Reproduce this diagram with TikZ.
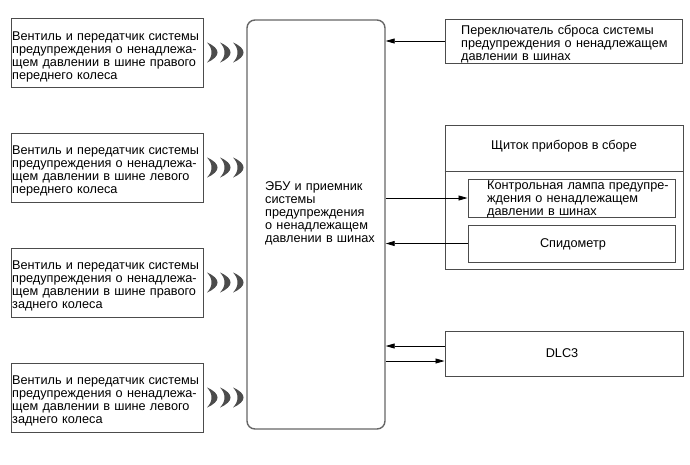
\documentclass[tikz,border=0pt]{standalone}
\usepackage{fontspec}
\setmainfont{Liberation Sans}
\usetikzlibrary{arrows.meta}
\begin{document}
\begin{tikzpicture}[x=1pt,y=-1pt,
  box/.style={draw=black!70,line width=1pt,inner sep=0pt,minimum width=#1},
  lbl/.style={font=\fontsize{12.7}{13}\selectfont,inner sep=0pt,align=left},
  conn/.style={line width=0.8pt,-{Triangle[length=9pt,width=5pt]}},
  wave/.style={fill=black!70,draw=none}]
\useasboundingbox (0,0) rectangle (690,464);
% left transmitter boxes
\foreach \n/\cy in {1/52.5,2/167.5,3/282.5,4/397.5}{
  \node[box=192pt,minimum height=69pt] (t\n) at (107,\cy) {};
  \foreach \wx [count=\k] in {207,220,233}{
    \fill[wave] (\wx,\cy-10) .. controls (\wx+14,\cy-4) and (\wx+14,\cy+4) .. (\wx,\cy+10)
       .. controls (\wx+6,\cy+4) and (\wx+6,\cy-4) .. (\wx,\cy-10);
  }
}
\node[lbl,anchor=base west,text width=195pt] (tx1) at (12,40) {Вентиль и передатчик системы\\предупреждения о ненадлежа-\\щем давлении в шине правого\\переднего колеса};
\node[lbl,anchor=base west,text width=195pt] (tx2) at (12,154) {Вентиль и передатчик системы\\предупреждения о ненадлежа-\\щем давлении в шине левого\\переднего колеса};
\node[lbl,anchor=base west,text width=195pt] (tx3) at (12,269) {Вентиль и передатчик системы\\предупреждения о ненадлежа-\\щем давлении в шине правого\\заднего колеса};
\node[lbl,anchor=base west,text width=195pt] (tx4) at (12,384) {Вентиль и передатчик системы\\предупреждения о ненадлежа-\\щем давлении в шине левого\\заднего колеса};
% ECU
\node[box=138pt,minimum height=409pt,rounded corners=8pt,draw=black!60,line width=1.4pt] (ecu) at (316,224.5) {};
\node[lbl,anchor=base west,text width=120pt] (ecutx) at (265,190) {ЭБУ и приемник\\системы\\предупреждения\\о ненадлежащем\\давлении в шинах};
% reset switch
\node[box=237pt,minimum height=44pt] (reset) at (563.5,41) {};
\node[lbl,anchor=base west,text width=220pt] (resettx) at (461,34) {Переключатель сброса системы\\предупреждения о ненадлежащем\\давлении в шинах};
% combination meter
\node[box=238pt,minimum height=144pt] (meter) at (564,197) {};
\draw[black!70,line width=1pt] (meter.west |- 0,171) coordinate (dl) -- (meter.east |- 0,171) coordinate (dr);
\node[lbl,anchor=base] (metertx) at (564,149) {Щиток приборов в сборе};
\node[box=207pt,minimum height=38pt] (lamp) at (571.5,198) {};
\node[lbl,anchor=base west,text width=200pt] (lamptx) at (487,189) {Контрольная лампа предупре-\\ждения о ненадлежащем\\давлении в шинах};
\node[box=207pt,minimum height=37pt] (speedo) at (571.5,243.5) {};
\node[lbl,anchor=base] (speedotx) at (573,247) {Спидометр};
% DLC3
\node[box=238pt,minimum height=45pt] (dlc) at (564,353.5) {};
\node[lbl,anchor=base] (dlctx) at (562,357) {DLC3};
% connectors
\draw[conn] (reset.west) -- (reset.west -| ecu.east);
\draw[conn] (lamp.west -| ecu.east) -- (lamp.west);
\draw[conn] (speedo.west) -- (speedo.west -| ecu.east);
\draw[conn] ([yshift=7.5pt]dlc.west) -- ([yshift=7.5pt]dlc.west -| ecu.east);
\draw[conn] ([yshift=-7.5pt]dlc.west -| ecu.east) -- ([yshift=-7.5pt]dlc.west);
\end{tikzpicture}
\end{document}
